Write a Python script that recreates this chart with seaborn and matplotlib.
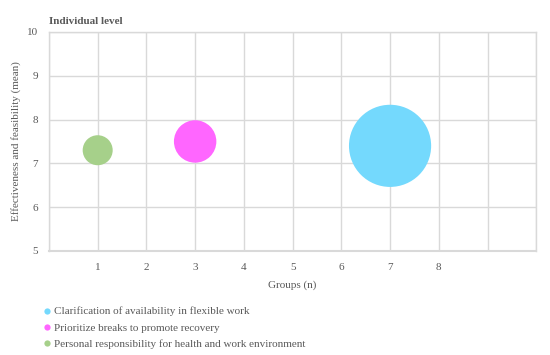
import pandas as pd
import seaborn as sns
import matplotlib.pyplot as plt
from matplotlib.lines import Line2D

measures = ['Clarification of availability in flexible work',
            'Prioritize breaks to promote recovery',
            'Personal responsibility for health and work environment']
groups = [7, 3, 1]
scores = [7.4, 7.5, 7.3]
bubble = [7.5, 2, 1]
colors = ['#74D9FD', '#FF66FF', '#A6D08A']
x_labels = ['', '1', '2', '3', '4', '5', '6', '7', '8', '', '']

df = pd.DataFrame({'measure': measures, 'groups': groups, 'score': scores, 'bubble': bubble})

sns.set_style('white')
plt.rcParams['font.family'] = ['Liberation Serif', 'DejaVu Serif']
txt = '#595959'
grid = '#D9D9D9'

fig, ax = plt.subplots(figsize=(5.5, 3.55), dpi=100)
fig.subplots_adjust(left=0.089, right=0.975, top=0.91, bottom=0.293)

sns.scatterplot(data=df, x='groups', y='score', hue='measure', size='bubble',
                palette=dict(zip(measures, colors)), sizes=(0, 3500), size_norm=(0, 7.5),
                linewidth=0, alpha=1, legend=False, ax=ax, zorder=3)

ax.set_xlim(0, 10)
ax.set_ylim(5, 10)
ax.set_xticks(range(0, 11))
ax.set_xticklabels(x_labels)
ax.set_yticks(range(5, 11))
ax.grid(True, color=grid, linewidth=1)
for s in ax.spines.values():
    s.set_color(grid)
    s.set_linewidth(1)
ax.spines['bottom'].set_linewidth(1.5)
ax.tick_params(length=0, labelsize=8, labelcolor=txt)
ax.tick_params(axis='x', pad=9)
ax.tick_params(axis='y', pad=8)
ax.set_xlabel('Groups (n)', fontsize=8, color=txt, labelpad=6)
ax.set_ylabel('Effectiveness and feasibility (mean)', fontsize=8, color=txt, labelpad=4)
ax.set_title('Individual level', fontsize=8, fontweight='bold', color=txt, loc='left', pad=6)

handles = [Line2D([], [], marker='o', linestyle='', markersize=4.5, markerfacecolor=c,
                  markeredgewidth=0) for c in colors]
fig.legend(handles, measures, loc='center left', bbox_to_anchor=(0.08, 0.076),
           frameon=False, fontsize=8, labelcolor=txt, handlelength=0.6,
           handletextpad=0.3, labelspacing=0.6, borderaxespad=0, borderpad=0)

fig.savefig('out.png', dpi=100)
